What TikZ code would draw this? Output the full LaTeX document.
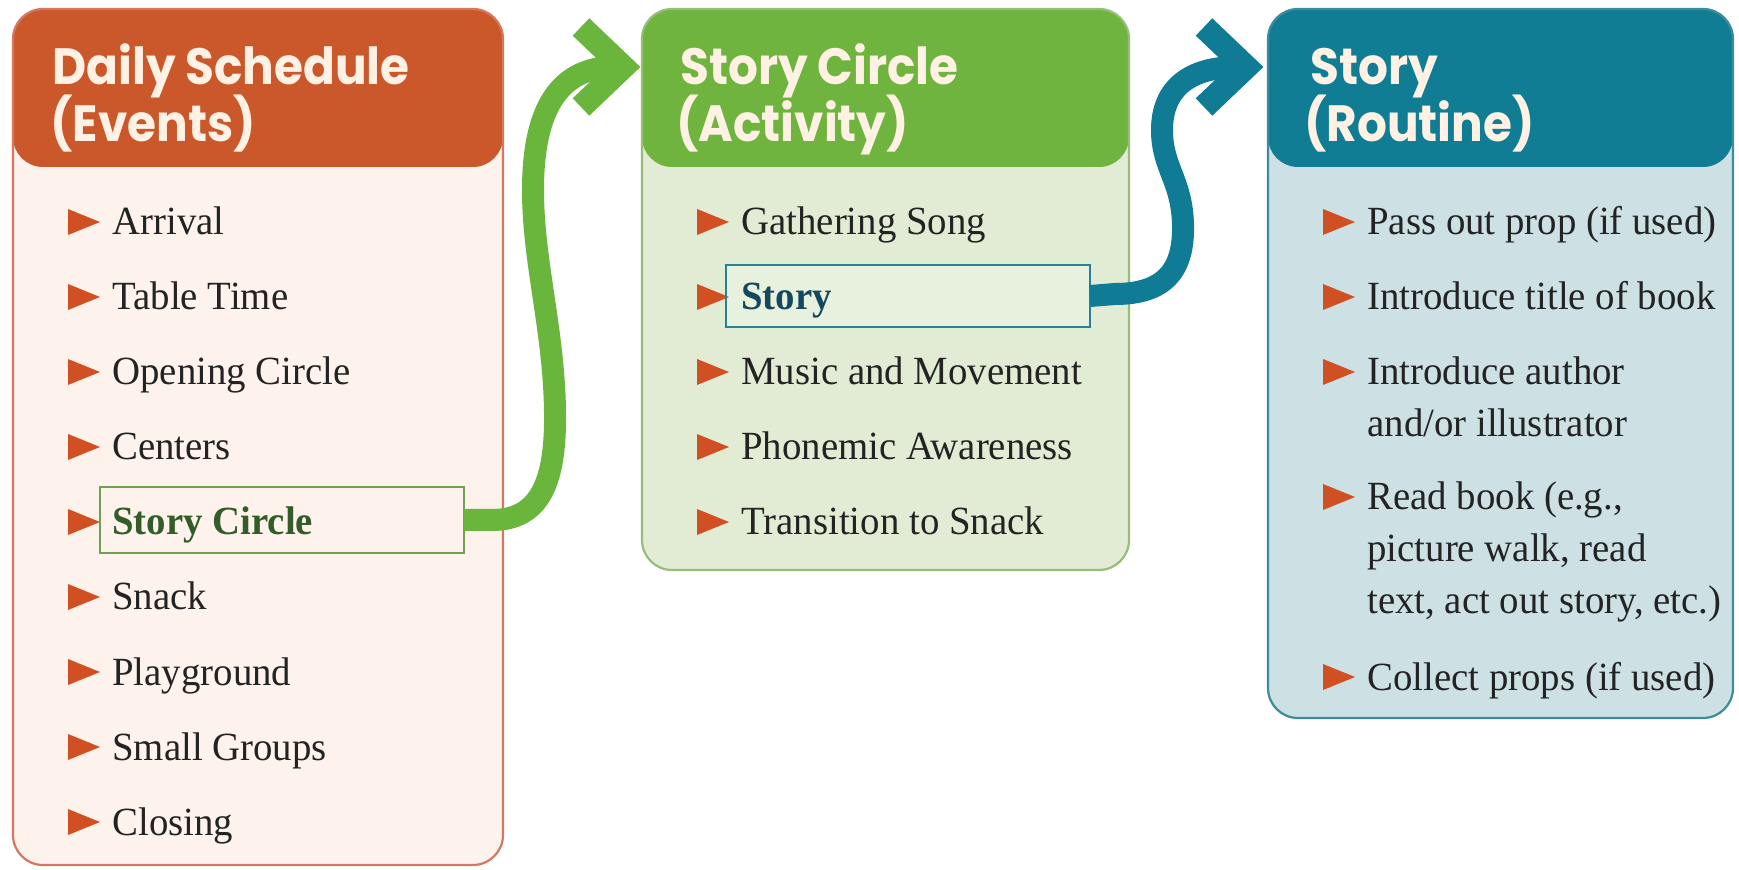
\documentclass[tikz,border=0pt]{standalone}
\usepackage{fontspec}
\setmainfont{Liberation Serif}[FakeStretch=0.97]
\newfontfamily\headfont{Poppins}[FakeStretch=0.92]
\usetikzlibrary{calc}

\definecolor{hdrorange}{RGB}{202,88,42}
\definecolor{bodyorange}{RGB}{253,243,236}
\definecolor{edgeorange}{RGB}{214,120,96}
\definecolor{hdrgreen}{RGB}{112,180,64}
\definecolor{bodygreen}{RGB}{226,236,212}
\definecolor{edgegreen}{RGB}{150,190,120}
\definecolor{hdrteal}{RGB}{17,125,148}
\definecolor{bodyteal}{RGB}{205,225,228}
\definecolor{edgeteal}{RGB}{60,140,158}
\definecolor{arrgreen}{RGB}{106,182,60}
\definecolor{arrteal}{RGB}{15,123,148}
\definecolor{bulletred}{RGB}{208,80,35}
\definecolor{txt}{RGB}{35,35,35}
\definecolor{titlecream}{RGB}{255,242,228}
\definecolor{hlgreen}{RGB}{112,160,82}
\definecolor{hlgreentext}{RGB}{52,92,40}
\definecolor{hlteal}{RGB}{40,130,150}
\definecolor{hltealtext}{RGB}{20,72,92}
\definecolor{hltealfill}{RGB}{232,240,222}

\tikzset{
  panel/.style n args={3}{draw=#3, line width=1.1pt, fill=#2, rounded corners=15pt,
    inner sep=0pt, outer sep=0pt,
    path picture={\fill[#1] (path picture bounding box.north west)
      rectangle ([yshift=-79pt]path picture bounding box.north east);}},
  heading/.style={anchor=base west, inner sep=0pt, text=titlecream,
    font=\headfont\bfseries\fontsize{25.5}{30}\selectfont},
  item/.style={anchor=base west, inner sep=0pt, text=txt,
    font=\fontsize{20}{24}\selectfont},
  hlbox/.style={draw=#1, line width=1.2pt, inner sep=0pt, outer sep=0pt},
  bulletmark/.style={fill=bulletred},
  flowline/.style={draw=#1, line width=11pt, line cap=butt},
  chevron/.style={draw=#1, line width=12pt, line cap=butt, line join=miter},
}

% bullet triangle at x=#1 with its base on baseline #2, then the text node
\newcommand\itemrow[4]{%
  \fill[bulletmark] (#1,#2-26) -- (#1+32,#2-13) -- (#1,#2) -- cycle;
  \node[item] (#4) at (#1+44,#2) {#3};}

\begin{document}
\begin{tikzpicture}[x=0.5pt,y=-0.5pt]
\useasboundingbox (0,0) rectangle (1739,870);
\fill[white] (0,0) rectangle (1739,870);

% three panels
\node[panel={hdrorange}{bodyorange}{edgeorange}, minimum width=245pt, minimum height=428pt]
  (events) at (258,437) {};
\node[panel={hdrgreen}{bodygreen}{edgegreen}, minimum width=243.5pt, minimum height=280.5pt]
  (activity) at (885.5,289.5) {};
\node[panel={hdrteal}{bodyteal}{edgeteal}, minimum width=232.5pt, minimum height=354.5pt]
  (routine) at (1500.5,363.5) {};

% headings
\node[heading] (t1a) at (52,85) {Daily Schedule};
\node[heading] (t1b) at (50,142) {(Events)};
\node[heading] (t2a) at (680,85) {Story Circle};
\node[heading] (t2b) at (676,142) {(Activity)};
\node[heading] (t3a) at (1310,85) {Story};
\node[heading] (t3b) at (1304,142) {(Routine)};

% highlight fill behind the routine entry
\fill[hltealfill] (726,265) rectangle (1090,327);

% daily schedule
\itemrow{68}{235}{Arrival}{e1}
\itemrow{68}{310}{Table Time}{e2}
\itemrow{68}{385}{Opening Circle}{e3}
\itemrow{68}{460}{Centers}{e4}
\itemrow{68}{535}{\textbf{\color{hlgreentext}Story Circle}}{e5}
\itemrow{68}{610}{Snack}{e6}
\itemrow{68}{685}{Playground}{e7}
\itemrow{68}{760}{Small Groups}{e8}
\itemrow{68}{835}{Closing}{e9}

% story circle activity
\itemrow{697}{235}{Gathering Song}{a1}
\itemrow{697}{310}{\textbf{\color{hltealtext}Story}}{a2}
\itemrow{697}{385}{Music and Movement}{a3}
\itemrow{697}{460}{Phonemic Awareness}{a4}
\itemrow{697}{535}{Transition to Snack}{a5}

% story routine
\itemrow{1323}{235}{Pass out prop (if used)}{r1}
\itemrow{1323}{310}{Introduce title of book}{r2}
\itemrow{1323}{385}{Introduce author}{r3}
\node[item] (r3b) at (1367,437) {and/or illustrator};
\itemrow{1323}{510}{Read book (e.g.,}{r4}
\node[item] (r4b) at (1367,562) {picture walk, read};
\node[item] (r4c) at (1367,614) {text, act out story, etc.)};
\itemrow{1323}{690}{Collect props (if used)}{r5}

% highlighted entries
\node[hlbox=hlgreen, minimum width=182pt, minimum height=33pt] (h1) at (282,520) {};
\node[hlbox=hlteal, minimum width=182pt, minimum height=31pt] (h2) at (908,296) {};

% connectors
\coordinate (g1) at (623,67);
\coordinate (g1u) at (581,27);
\coordinate (g1d) at (581,107);
\draw[flowline=arrgreen] (h1.east) -- (492,520)
  .. controls (540,520) and (556,482) .. (555,412)
  .. controls (554,330) and (533,262) .. (533,190)
  .. controls (533,108) and (560,67) .. (615,67);
\draw[chevron=arrgreen] (g1u) -- (g1) -- (g1d);

\coordinate (g2) at (1246,67);
\coordinate (g2u) at (1204,27);
\coordinate (g2d) at (1204,107);
\draw[flowline=arrteal] (h2.east) -- (1115,294)
  .. controls (1165,294) and (1184,270) .. (1183,225)
  .. controls (1182,180) and (1162,168) .. (1162,130)
  .. controls (1162,88) and (1190,67) .. (1238,67);
\draw[chevron=arrteal] (g2u) -- (g2) -- (g2d);
\end{tikzpicture}
\end{document}
